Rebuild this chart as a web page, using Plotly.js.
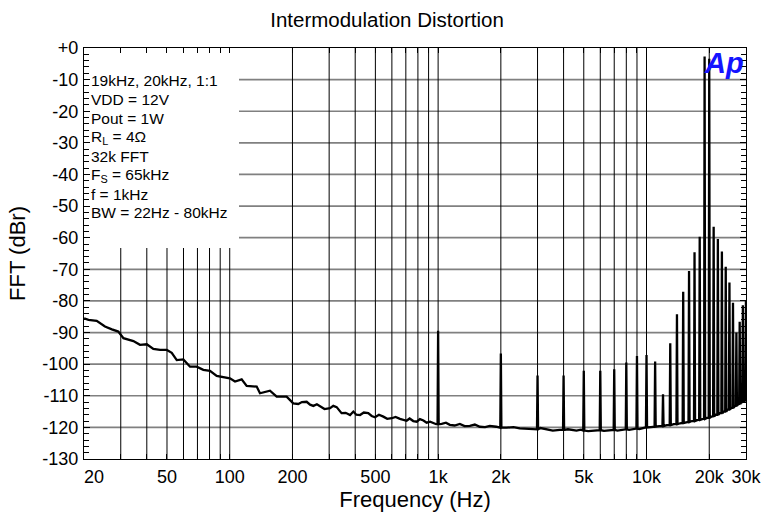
<!DOCTYPE html>
<html>
<head>
<meta charset="utf-8">
<script src="https://cdn.plot.ly/plotly-3.0.1.min.js"></script>
<style>html,body{margin:0;padding:0;background:#fff;}#chart{width:761px;height:514px;}</style>
</head>
<body>
<div id="chart"></div>
<script>
// ---- data ----
const floorFreq = [20,21,23,25.2,27.2,29.2,30.9,34.5,37.1,40,43,46.3,49.9,52.7,55.7,59.9,64.5,69.4,74.7,80.4,
  86.6,93.1,100.2,106,114.1,120.6,134.7,139.7,156,168,187.6,201.8,213.3,222,234,243,252,262,271,285,
  303,314,326,335,344,360,378,392,405,422,440,462,480,498,520,546,570,599,625,656,
  680,706,730,760,790,818,850,881,915,948,980,1040,1090,1138,1200,1271,1340,1420,1500,1585,
  1680,1771,1900,2129,2300,2466,2650,2857,3100,3311,3550,3836,4200,4613,4850,5250,5545,5800,6250,6500,
  6750,7250,7500,7750,8250,8500,8750,9250,9500,9750,10500,11500,12500,13500,14500,15500,16500,17500,18500,19500,
  20500,21500,22500,23500,24500,25500,26500,27500,28500,29500];
const floorDb = [-85.5,-86.0,-86.3,-88.1,-89.0,-89.7,-91.8,-92.7,-93.9,-93.7,-95.2,-95.5,-95.5,-96.4,-98.7,-98.5,-100.8,-100.8,-101.8,-102.1,
  -103.7,-104.1,-104.5,-105.5,-104.8,-106.9,-107.1,-109.2,-108.4,-110.3,-110.3,-112.4,-112.6,-112.0,-111.9,-112.8,-113.2,-112.7,-113.4,-114.2,
  -113.9,-113.2,-113.6,-114.5,-115.5,-115.4,-116.1,-115.0,-116.0,-116.1,-115.3,-115.5,-116.4,-116.8,-116.0,-116.6,-117.3,-117.1,-116.7,-117.3,
  -117.6,-117.9,-117.2,-118.0,-118.2,-117.4,-117.8,-118.5,-118.2,-118.7,-119.0,-118.9,-118.5,-119.2,-119.4,-118.9,-119.6,-119.5,-119.1,-119.8,
  -119.9,-119.5,-119.8,-120.1,-119.9,-120.3,-120.5,-120.6,-120.2,-120.6,-121.0,-120.8,-120.6,-121.0,-120.7,-121.2,-121.0,-120.9,-121.1,-121.0,
  -120.7,-121.0,-120.8,-120.6,-120.8,-120.6,-120.4,-120.5,-120.3,-120.0,-119.9,-119.6,-119.3,-119.0,-118.7,-118.4,-118.0,-117.7,-117.4,-117.0,
  -116.6,-116.0,-115.5,-115.0,-114.4,-113.8,-113.3,-112.7,-112.1,-111.6];

const peakFreq = [1000,2000,3000,4000,5000,6000,7000,8000,9000,10000,11000,12000,13000,14000,15000,
  16000,17000,18000,19000,20000,21000,22000,23000,24000,25000,26000,27000,28000,29000,30000];
const peakDb = [-89.4,-96.6,-103.6,-103.6,-102.1,-102.1,-101.6,-99.5,-97.4,-97.1,-99.2,-109.5,-93.4,-84.2,-77.1,
  -70.5,-64.6,-59.7,-2.7,-3.4,-56.5,-60.4,-64.4,-69.2,-74.2,-80.6,-90.0,-86.6,-81.4,-79.7];
const peakBaseDb = [-119.0,-120.1,-120.6,-120.8,-121.0,-120.9,-120.8,-120.6,-120.4,-120.0,-119.8,-119.6,-119.3,-119.0,-118.6,
  -118.3,-118.0,-117.6,-117.3,-117.0,-116.5,-116.0,-115.5,-115.0,-114.4,-113.8,-113.2,-112.6,-112.0,-111.5];

const xGridVals = [30,40,50,60,70,80,90,100,200,300,400,500,600,700,800,900,
  1000,2000,3000,4000,5000,6000,7000,8000,9000,10000,20000];
const xTickVals = [20,50,100,200,500,1000,2000,5000,10000,20000,30000];
const xTickText = ['\u00a0\u00a0\u00a0\u00a020','50','100','200','500','1k','2k','5k','10k','20k','30k'];
const yTickVals = [0,-10,-20,-30,-40,-50,-60,-70,-80,-90,-100,-110,-120,-130];
const yTickText = ['+0','-10','-20','-30','-40','-50','-60','-70','-80','-90','-100','-110','-120','-130'];

const infoLines = ['19kHz, 20kHz, 1:1','VDD = 12V','Pout = 1W','R<sub>L</sub> = 4\u03a9','32k FFT',
  'F<sub>S</sub> = 65kHz','f = 1kHz','BW = 22Hz - 80kHz'];

// ---- build the spectrum trace ----
const W = 0.006;
const pts = [];
floorFreq.forEach((f, i) => {
  if (!peakFreq.some(p => Math.abs(f / p - 1) < 0.012)) pts.push([f, floorDb[i]]);
});
peakFreq.forEach((p, i) => {
  pts.push([p * (1 - W), peakBaseDb[i]]);
  pts.push([p, peakDb[i]]);
  pts.push([p * (1 + W), peakBaseDb[i]]);
});
pts.sort((a, b) => a[0] - b[0]);

const FONT = 'Liberation Sans, Arial, sans-serif';
const L = 84, R = 746, T = 48, B = 459, H = B - T, WID = R - L;
const py = v => 1 - (v - T) / H;
const px = v => (v - L) / WID;

// grid drawn as shapes below the data so that the white legend panel can hide it
const shapes = [];
yTickVals.slice(1, -1).forEach(v => shapes.push({
  type: 'line', layer: 'below', xref: 'paper', yref: 'y', x0: 0, x1: 1, y0: v, y1: v,
  line: {color: '#808080', width: 1.7}
}));
xGridVals.forEach(v => shapes.push({
  type: 'line', layer: 'below', xref: 'x', yref: 'paper', x0: v, x1: v, y0: 0, y1: 1,
  line: {color: '#000', width: 1}
}));
shapes.push({
  type: 'rect', layer: 'below', xref: 'paper', yref: 'paper',
  x0: 0, x1: px(239), y0: py(248), y1: 1,
  fillcolor: '#fff', line: {width: 0}
});

const lineY = [80, 99.3, 118.3, 137.3, 156, 175, 194, 212.7];
const annotations = infoLines.map((t, i) => ({
  text: t, xref: 'paper', yref: 'paper', x: px(90), y: py(lineY[i]),
  xanchor: 'left', yanchor: 'middle', showarrow: false, borderpad: 0,
  font: {family: FONT, size: 15.5, color: '#000'}
}));
annotations.push({
  text: '<b><i>Ap</i></b>', xref: 'paper', yref: 'paper', x: px(745), y: py(63),
  xanchor: 'right', yanchor: 'middle', showarrow: false, borderpad: 0,
  font: {family: FONT, size: 29, color: '#1414ff'}
});

const trace = {
  x: pts.map(p => p[0]), y: pts.map(p => p[1]),
  type: 'scatter', mode: 'lines',
  line: {color: '#000', width: 2.3},
  hoverinfo: 'skip', showlegend: false
};

const layout = {
  width: 761, height: 514,
  margin: {l: L, r: 761 - R, t: T, b: 514 - B, pad: 0},
  paper_bgcolor: '#fff', plot_bgcolor: '#fff',
  font: {family: FONT, color: '#000'},
  title: {text: 'Intermodulation Distortion', x: 387 / 761, xanchor: 'center', y: 1 - 20 / 514, yanchor: 'middle',
    font: {family: FONT, size: 20.5, color: '#000'}},
  xaxis: {
    type: 'log', range: [Math.log10(20) - 0.0003, Math.log10(30000) + 0.0003], autorange: false,
    tickmode: 'array', tickvals: xTickVals, ticktext: xTickText,
    ticklabeloverflow: 'allow',
    showgrid: false,
    ticks: 'inside', ticklen: 5, tickcolor: '#000', tickwidth: 1,
    minor: {tickmode: 'array', tickvals: xGridVals, ticks: 'inside', ticklen: 5, tickcolor: '#000', tickwidth: 1, showgrid: false},
    showline: true, linecolor: '#000', linewidth: 1.2, mirror: 'ticks',
    zeroline: false, automargin: false,
    tickfont: {family: FONT, size: 18, color: '#000'},
    ticklabelstandoff: 1,
    title: {text: 'Frequency (Hz)', font: {family: FONT, size: 22, color: '#000'}, standoff: 3}
  },
  yaxis: {
    range: [-130, 0], autorange: false,
    tickmode: 'array', tickvals: yTickVals, ticktext: yTickText,
    showgrid: false,
    ticks: 'inside', ticklen: 6, tickcolor: '#000', tickwidth: 1,
    minor: {tickmode: 'linear', tick0: 0, dtick: 2, ticks: 'inside', ticklen: 5, tickcolor: '#000', tickwidth: 1, showgrid: false},
    showline: true, linecolor: '#000', linewidth: 1.2, mirror: 'ticks',
    zeroline: false, automargin: false,
    tickfont: {family: FONT, size: 18, color: '#000'},
    ticklabelstandoff: 1,
    title: {text: 'FFT (dBr)', font: {family: FONT, size: 22, color: '#000'}, standoff: 10}
  },
  shapes: shapes,
  annotations: annotations
};

Plotly.newPlot('chart', [trace], layout, {staticPlot: true, displayModeBar: false});
</script>
</body>
</html>
